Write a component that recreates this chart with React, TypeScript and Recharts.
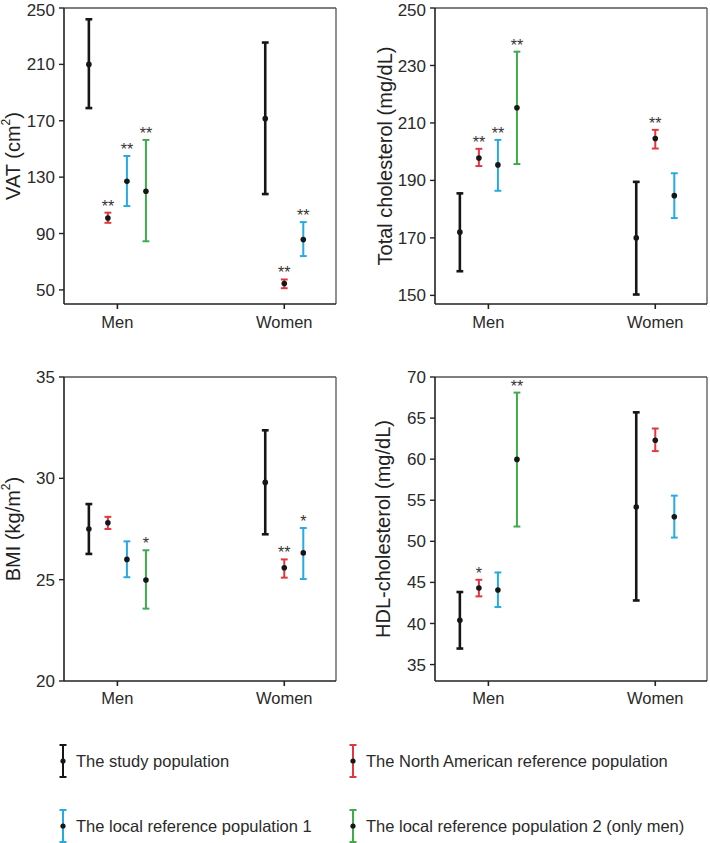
import React from 'react';
import { ScatterChart, Scatter, XAxis, YAxis, ErrorBar, ReferenceLine } from 'recharts';

const FONT = '"Liberation Sans", Arial, Helvetica, sans-serif';

const GROUPS = ['Men', 'Women'];
const SERIES_NAMES = [
  'The study population',
  'The North American reference population',
  'The local reference population 1',
  'The local reference population 2 (only men)',
];
const SERIES_COLORS = ['#161616', '#e2373f', '#27a9e1', '#3fab4b'];

// [mean, lower, upper] for Men, Women (null = not shown)
const VAT_STUDY = [[210, 179, 242], [171.5, 118, 225.5]];
const VAT_NA = [[101, 97.6, 104.8], [54.5, 51.2, 57.4]];
const VAT_LOCAL1 = [[127, 109.5, 145], [85.7, 74, 98.1]];
const VAT_LOCAL2 = [[120, 84.5, 156.4], null];
const VAT_STARS = [['', '**', '**', '**'], ['', '**', '**', '']];
const VAT_TICKS = [50, 90, 130, 170, 210, 250];

const TC_STUDY = [[172, 158.4, 185.5], [170, 150.3, 189.5]];
const TC_NA = [[197.8, 195, 201], [204.6, 201.1, 207.6]];
const TC_LOCAL1 = [[195.4, 186.4, 204.1], [184.7, 176.9, 192.5]];
const TC_LOCAL2 = [[215.3, 195.7, 234.8], null];
const TC_STARS = [['', '**', '**', '**'], ['', '**', '', '']];
const TC_TICKS = [150, 170, 190, 210, 230, 250];

const BMI_STUDY = [[27.5, 26.27, 28.73], [29.8, 27.24, 32.37]];
const BMI_NA = [[27.81, 27.5, 28.1], [25.59, 25.1, 26.0]];
const BMI_LOCAL1 = [[26.0, 25.12, 26.89], [26.32, 25.03, 27.55]];
const BMI_LOCAL2 = [[24.98, 23.57, 26.45], null];
const BMI_STARS = [['', '', '', '*'], ['', '**', '*', '']];
const BMI_TICKS = [20, 25, 30, 35];

const HDL_STUDY = [[40.4, 36.95, 43.83], [54.18, 42.8, 65.7]];
const HDL_NA = [[44.31, 43.3, 45.32], [62.3, 60.98, 63.73]];
const HDL_LOCAL1 = [[44.07, 42.0, 46.21], [53.0, 50.46, 55.56]];
const HDL_LOCAL2 = [[59.97, 51.8, 68.1], null];
const HDL_STARS = [['', '*', '', '**'], ['', '', '', '']];
const HDL_TICKS = [35, 40, 45, 50, 55, 60, 65, 70];

const X_DOMAIN = [0.68, 2.31];
const SLOT = 0.114;

type Triple = number[] | null;

// place each series side by side around its group's tick
function buildPanel(series: Triple[][], stars: string[][]) {
  const out = series.map(() => [] as any[]);
  const starPts: any[] = [];
  GROUPS.forEach((_, g) => {
    const present = series.map((s, i) => (s[g] ? i : -1)).filter((i) => i >= 0);
    present.forEach((si, slot) => {
      const [mean, lo, hi] = series[si][g] as number[];
      const x = g + 1 + (slot - (present.length - 1) / 2) * SLOT;
      out[si].push({ x, y: mean, err: [mean - lo, hi - mean] });
      if (stars[g][si]) starPts.push({ x, y: hi, star: stars[g][si] });
    });
  });
  return { out, starPts };
}

const Dot = (p: any) => <circle cx={p.cx} cy={p.cy} r={2.8} fill="#161616" />;
const Star = (p: any) => (
  <text x={p.cx} y={p.cy - 1} textAnchor="middle" fontSize={16} fill="#333" fontFamily={FONT}>
    {p.payload.star}
  </text>
);

const yTitle = (title: string, sup: boolean, dx: number) => (props: any) => {
  const vb = props.viewBox || { x: 0, y: 0, width: 0, height: 0 };
  const cx = vb.x + dx;
  const cy = vb.y + vb.height / 2;
  return (
    <text
      x={cx}
      y={cy}
      transform={`rotate(-90 ${cx} ${cy})`}
      textAnchor="middle"
      dominantBaseline="central"
      fontSize={20}
      fill="#222"
      fontFamily={FONT}
    >
      {title}
      {sup && (
        <tspan baselineShift="super" fontSize={12}>
          2
        </tspan>
      )}
      {sup && <tspan>)</tspan>}
    </text>
  );
};

type PanelProps = {
  left: number;
  top: number;
  width: number;
  height: number;
  margin: { top: number; right: number; bottom: number; left: number };
  yWidth: number;
  xHeight: number;
  xTickMargin: number;
  domain: number[];
  ticks: number[];
  title: string;
  sup: boolean;
  titleDx: number;
  series: Triple[][];
  stars: string[][];
};

function Panel(p: PanelProps) {
  const { out, starPts } = buildPanel(p.series, p.stars);
  return (
    <div style={{ position: 'absolute', left: p.left, top: p.top }}>
      <ScatterChart width={p.width} height={p.height} margin={p.margin}>
        <XAxis
          type="number"
          dataKey="x"
          domain={X_DOMAIN}
          ticks={[1, 2]}
          allowDataOverflow
          tickFormatter={(v: number) => GROUPS[v - 1]}
          height={p.xHeight}
          tickSize={5}
          tickMargin={p.xTickMargin}
          axisLine={{ stroke: '#222', strokeWidth: 1.6 }}
          tickLine={{ stroke: '#222', strokeWidth: 1.6 }}
          tick={{ fontSize: 16.5, fill: '#2a2a2a', fontFamily: FONT }}
        />
        <YAxis
          type="number"
          dataKey="y"
          domain={p.domain}
          ticks={p.ticks}
          allowDataOverflow
          width={p.yWidth}
          tickSize={5}
          tickMargin={4}
          axisLine={{ stroke: '#222', strokeWidth: 1.6 }}
          tickLine={{ stroke: '#222', strokeWidth: 1.4 }}
          tick={{ fontSize: 17, fill: '#2a2a2a', fontFamily: FONT }}
          label={yTitle(p.title, p.sup, p.titleDx)}
        />
        <ReferenceLine y={p.domain[1]} stroke="#555" strokeWidth={1.3} />
        <ReferenceLine x={X_DOMAIN[1]} stroke="#555" strokeWidth={1.3} />
        {out.map((data, i) => (
          <Scatter key={i} data={data} shape={Dot} isAnimationActive={false}>
            <ErrorBar
              dataKey="err"
              direction="y"
              width={3.4}
              stroke={SERIES_COLORS[i]}
              strokeWidth={i === 0 ? 2.6 : 2}
            />
          </Scatter>
        ))}
        <Scatter data={starPts} shape={Star} isAnimationActive={false} />
      </ScatterChart>
    </div>
  );
}

function LegendItem({ x, y, i }: { x: number; y: number; i: number }) {
  const c = SERIES_COLORS[i];
  return (
    <div style={{ position: 'absolute', left: x, top: y - 17, height: 34, display: 'flex', alignItems: 'center' }}>
      <svg width={10} height={34} style={{ display: 'block' }}>
        <line x1={5} x2={5} y1={1} y2={33} stroke={c} strokeWidth={2} />
        <line x1={1.5} x2={8.5} y1={1} y2={1} stroke={c} strokeWidth={2} />
        <line x1={1.5} x2={8.5} y1={33} y2={33} stroke={c} strokeWidth={2} />
        <circle cx={5} cy={17} r={2.6} fill="#161616" />
      </svg>
      <span style={{ marginLeft: 8, fontSize: 16.5, color: '#2a2a2a', fontFamily: FONT, whiteSpace: 'nowrap' }}>
        {SERIES_NAMES[i]}
      </span>
    </div>
  );
}

export default function App() {
  return (
    <div style={{ position: 'absolute', left: 0, top: 0, width: 710, height: 843, background: '#fff', fontFamily: FONT }}>
      <Panel
        left={0}
        top={0}
        width={345}
        height={340}
        margin={{ top: 8, right: 9, bottom: 0, left: 0 }}
        yWidth={64}
        xHeight={36}
        xTickMargin={7}
        domain={[40, 250]}
        ticks={VAT_TICKS}
        title="VAT (cm"
        sup={true}
        titleDx={13}
        series={[VAT_STUDY, VAT_NA, VAT_LOCAL1, VAT_LOCAL2]}
        stars={VAT_STARS}
      />
      <Panel
        left={355}
        top={0}
        width={355}
        height={340}
        margin={{ top: 8, right: 3, bottom: 0, left: 0 }}
        yWidth={80}
        xHeight={36}
        xTickMargin={7}
        domain={[147, 250]}
        ticks={TC_TICKS}
        title="Total cholesterol (mg/dL)"
        sup={false}
        titleDx={30}
        series={[TC_STUDY, TC_NA, TC_LOCAL1, TC_LOCAL2]}
        stars={TC_STARS}
      />
      <Panel
        left={0}
        top={345}
        width={345}
        height={375}
        margin={{ top: 32, right: 9, bottom: 0, left: 0 }}
        yWidth={64}
        xHeight={39}
        xTickMargin={6}
        domain={[20, 35]}
        ticks={BMI_TICKS}
        title="BMI (kg/m"
        sup={true}
        titleDx={13}
        series={[BMI_STUDY, BMI_NA, BMI_LOCAL1, BMI_LOCAL2]}
        stars={BMI_STARS}
      />
      <Panel
        left={355}
        top={345}
        width={355}
        height={375}
        margin={{ top: 32, right: 3, bottom: 0, left: 0 }}
        yWidth={80}
        xHeight={39}
        xTickMargin={6}
        domain={[33, 70]}
        ticks={HDL_TICKS}
        title="HDL-cholesterol (mg/dL)"
        sup={false}
        titleDx={28}
        series={[HDL_STUDY, HDL_NA, HDL_LOCAL1, HDL_LOCAL2]}
        stars={HDL_STARS}
      />
      <LegendItem x={58} y={761} i={0} />
      <LegendItem x={348} y={761} i={1} />
      <LegendItem x={58} y={826} i={2} />
      <LegendItem x={348} y={826} i={3} />
    </div>
  );
}
